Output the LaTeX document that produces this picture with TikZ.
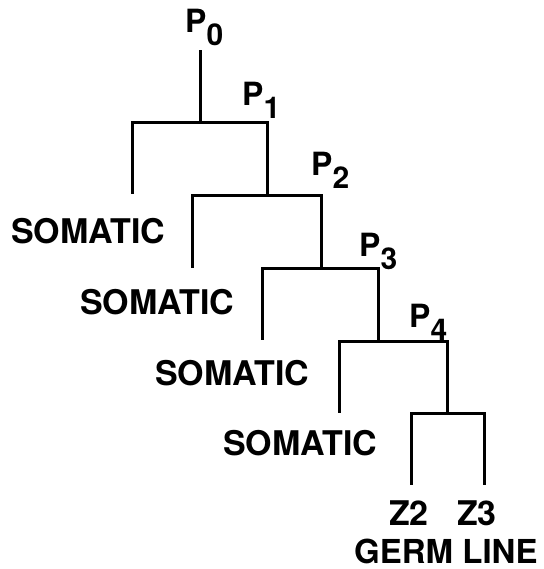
\documentclass[tikz,border=0pt]{standalone}
\usepackage{fontspec}
\setmainfont{TeX Gyre Heros}
\begin{document}
\begin{tikzpicture}[x=1pt,y=-1pt,
  lineage/.style={line width=3pt,line cap=rect,line join=miter},
  lab/.style={anchor=base west,inner sep=0pt,font=\fontsize{34}{38}\selectfont\bfseries},
  plab/.style={anchor=base west,inner sep=0pt,font=\fontsize{32}{36}\selectfont\bfseries},
]
\newcommand{\cellP}[1]{P\raisebox{-13pt}{\fontsize{30}{30}\selectfont #1}}
\useasboundingbox (0,0) rectangle (543,569);

% division points of the P cells
\coordinate (top) at (200,52);
\coordinate (d0) at (200,123);
\coordinate (d1) at (267,196);
\coordinate (d2) at (321,268);
\coordinate (d3) at (378,341);
\coordinate (d4) at (447,413);
% free ends of the somatic branches
\coordinate (s1) at (132,193);
\coordinate (s2) at (192,266);
\coordinate (s3) at (262,338);
\coordinate (s4) at (339,411);
% germ line ends
\coordinate (g2) at (411,483);
\coordinate (g3) at (484,483);

% lineage tree
\draw[lineage] (top) -- (d0);
\draw[lineage] (s1) |- (d0) -| (d1);
\draw[lineage] (s2) |- (d1) -| (d2);
\draw[lineage] (s3) |- (d2) -| (d3);
\draw[lineage] (s4) |- (d3) -| (d4);
\draw[lineage] (g2) |- (d4) -| (g3);

% cell labels
\node[plab] (p0) at (185,33) {\cellP{0}};
\node[plab] (p1) at (242,106) {\cellP{1}};
\node[plab] (p2) at (311,176) {\cellP{2}};
\node[plab] (p3) at (359,256) {\cellP{3}};
\node[plab] (p4) at (409,327) {\cellP{4}};

\node[lab] (som1) at (11,243) {SOMATIC};
\node[lab] (som2) at (80,314) {SOMATIC};
\node[lab] (som3) at (155,385) {SOMATIC};
\node[lab] (som4) at (223,455) {SOMATIC};

\node[lab] (z2) at (389,525) {Z2};
\node[lab] (z3) at (457,525) {Z3};
\node[lab,font=\fontsize{33}{38}\selectfont\bfseries] (germ) at (354,563) {GERM LINE};
\end{tikzpicture}
\end{document}
